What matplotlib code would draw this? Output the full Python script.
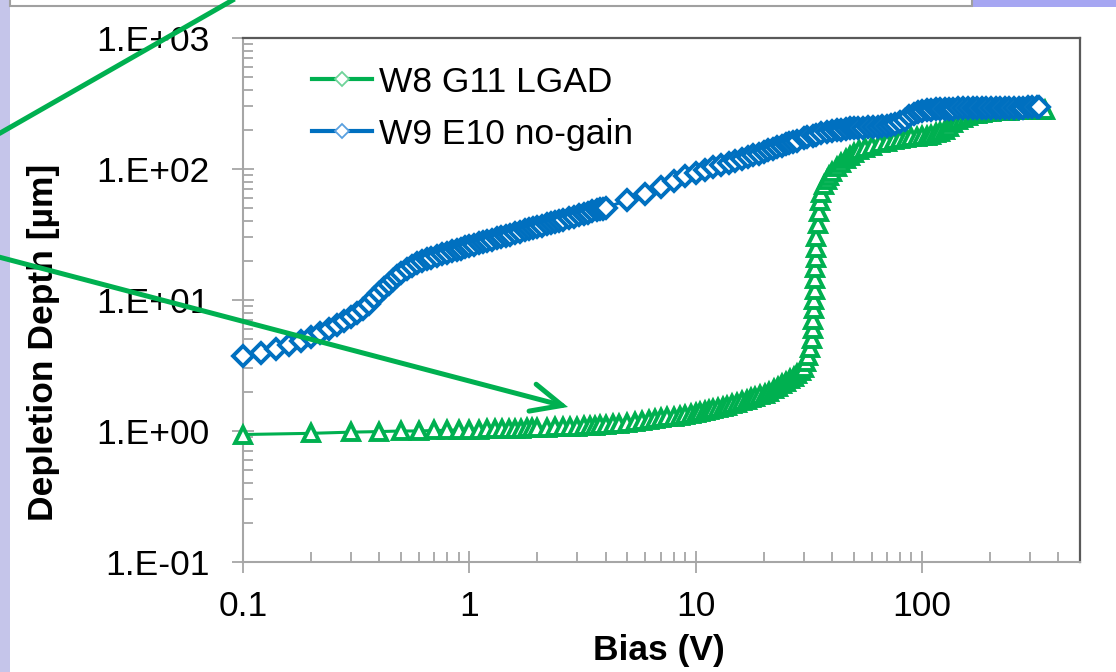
import matplotlib
matplotlib.use('Agg')
import matplotlib.pyplot as plt
from matplotlib.lines import Line2D
from matplotlib.patches import Rectangle, FancyArrowPatch
from matplotlib.ticker import FuncFormatter, LogLocator, NullFormatter
import numpy as np

plt.rcParams['font.family'] = ['Liberation Sans', 'DejaVu Sans']

# W9 E10 no-gain sensor: bias (V) and depletion depth (um)
bias_nogain = [
    0.10, 0.12, 0.14, 0.16, 0.18, 0.20, 0.22, 0.24, 0.26, 0.28, 0.30, 0.32,
    0.34, 0.36, 0.38, 0.40, 0.42, 0.44, 0.46, 0.48, 0.50, 0.53, 0.56, 0.59,
    0.62, 0.65, 0.68, 0.72, 0.76, 0.80, 0.84, 0.88, 0.92, 0.96, 1.0, 1.05,
    1.1, 1.15, 1.2, 1.26, 1.32, 1.38, 1.45, 1.52, 1.6, 1.68, 1.76, 1.84,
    1.92, 2.0, 2.1, 2.2, 2.3, 2.4, 2.5, 2.6, 2.75, 2.9, 3.05, 3.2, 3.35,
    3.5, 3.65, 3.8, 3.9, 4.0,
    5, 6, 7, 8, 9, 10, 11, 12, 13, 14, 15, 16, 17, 18, 19, 20, 21, 22, 23,
    24, 25, 26, 27, 28, 30, 31, 33, 34, 36, 38, 40, 42, 44, 46, 48, 50, 52,
    55, 58, 61, 64, 67, 70, 73, 76, 80, 84, 88, 92, 96, 100, 105, 110, 115,
    120, 126, 132, 138, 145, 152, 160, 168, 176, 184, 193, 202, 212, 222,
    233, 244, 256, 268, 281, 294, 308, 322, 330,
]
depth_nogain = [
    3.75, 3.95, 4.2, 4.5, 4.85, 5.2, 5.6, 6.0, 6.45, 6.9, 7.4, 7.9,
    8.6, 9.4, 10.3, 11.3, 12.3, 13.3, 14.3, 15.2, 16.0, 17.2, 18.2, 19.1,
    19.8, 20.4, 21.0, 21.7, 22.3, 22.9, 23.5, 24.1, 24.7, 25.2, 25.8, 26.4,
    27.0, 27.6, 28.2, 28.9, 29.6, 30.2, 30.9, 31.6, 32.4, 33.2, 34.0, 34.7,
    35.4, 36.1, 37.0, 37.8, 38.6, 39.4, 40.2, 41.0, 42.1, 43.2, 44.3, 45.4, 46.4,
    47.4, 48.4, 49.3, 49.9, 50.5,
    58, 65, 73, 81, 88, 93, 98, 103, 107, 111, 115, 119, 123, 127, 131, 135,
    139, 143, 147, 151, 155, 159, 162, 165, 171, 174, 179, 182, 187, 191,
    195, 198, 200, 202, 204, 205, 206, 207, 208, 209, 210, 212, 214, 217,
    221, 228, 238, 252, 265, 273, 278, 282, 284, 286, 287, 288, 289, 289,
    290, 290, 291, 291, 291, 292, 292, 292, 293, 293, 293, 293, 294, 294,
    294, 295, 295, 295, 295,
]

# W8 G11 LGAD sensor
bias_lgad = [
    0.1, 0.2, 0.3, 0.4, 0.5, 0.6, 0.7, 0.8, 0.9, 1.0, 1.1, 1.2, 1.3, 1.4,
    1.5, 1.6, 1.7, 1.8, 1.9, 2.0, 2.2, 2.4, 2.6, 2.8, 3.0, 3.2, 3.4, 3.6,
    3.8, 4.0, 4.3, 4.6, 5.0, 5.4, 5.8, 6.2, 6.6, 7.0, 7.5, 8.0, 8.5, 9.0,
    9.5, 10, 10.5, 11, 11.5, 12, 12.6, 13.2, 13.8, 14.5, 15.2, 16, 16.8,
    17.6, 18.4, 19.3, 20.2, 21.2, 22.2, 23.2, 24.2, 25.2, 26.2, 27.2, 28.2,
    29.2, 30.0, 30.8, 31.5, 32.1,
    32.6, 33.0, 33.2, 33.4, 33.5, 33.6, 33.7, 33.8, 33.9, 34.0,
    34.2, 34.6, 35.0, 35.5, 36, 37, 38, 39, 40, 42,
    44, 46, 48, 50, 53, 56, 60, 65, 70, 75,
    80, 85, 90, 95, 100, 105, 110, 115, 120, 126,
    132, 138, 145, 152, 160, 168, 176, 184, 193, 202,
    212, 222, 233, 244, 256, 268, 281, 294, 308, 322,
    336, 350,
]
depth_lgad = [
    0.94, 0.96, 0.98, 0.99, 1.0, 1.0, 1.01, 1.01, 1.02, 1.02, 1.02, 1.03,
    1.03, 1.03, 1.04, 1.04, 1.04, 1.05, 1.05, 1.05, 1.06, 1.07, 1.07, 1.08,
    1.08, 1.09, 1.10, 1.10, 1.11, 1.12, 1.13, 1.14, 1.16, 1.18, 1.20, 1.22,
    1.24, 1.25, 1.27, 1.29, 1.31, 1.33, 1.35, 1.37, 1.39, 1.42, 1.44, 1.46,
    1.49, 1.53, 1.56, 1.60, 1.64, 1.68, 1.73, 1.78, 1.83, 1.88, 1.93, 2.0,
    2.08, 2.18, 2.28, 2.38, 2.48, 2.58, 2.7, 2.85, 3.05, 3.35, 3.75, 4.3,
    5.0, 6.0, 7.0, 8.5, 10, 12, 14.5, 17.5, 21, 25,
    30, 38, 47, 57, 66, 75, 83, 89, 95, 103,
    111, 119, 126, 132, 139, 145, 151, 157, 162, 166,
    169, 172, 174, 176, 178, 180, 183, 187, 192, 200,
    211, 223, 236, 245, 254, 261, 265, 268, 271, 273,
    275, 277, 278, 279, 280, 281, 281, 282, 282, 283,
    283, 284,
]

green = '#00b050'
blue = '#0070c0'

fig = plt.figure(figsize=(11.16, 6.72), dpi=100)
W, H = 1116, 672

# slide background pieces behind the chart
bg = fig.add_axes([0, 0, 1, 1], zorder=0)
bg.set_xlim(0, W)
bg.set_ylim(H, 0)
bg.axis('off')
bg.add_patch(Rectangle((0, 0), 10, H, color='#c5c5ea', lw=0))
bg.add_patch(Rectangle((972, -5), W - 972, 12, color='#a6a6f2', lw=0))
bg.add_patch(Rectangle((10, -10), 962, 16, facecolor='white',
                       edgecolor='#a0a0a0', lw=1.5))

ax = fig.add_axes([243 / W, 1 - 562 / H, 837 / W, 524 / H], zorder=1)
ax.set_xscale('log')
ax.set_yscale('log')

ax.plot(bias_lgad, depth_lgad, color=green, lw=2.2, marker='^', ms=11,
        mfc='white', mec=green, mew=2.8, clip_on=False, zorder=3)
ax.plot(bias_nogain, depth_nogain, color=blue, lw=2.2, marker='D', ms=10.5,
        mfc='white', mec=blue, mew=2.8, clip_on=False, zorder=4)

ax.set_xlim(0.1, 500)
ax.set_ylim(0.1, 1000)

ax.yaxis.set_major_locator(LogLocator(base=10, numticks=10))
ax.yaxis.set_minor_locator(LogLocator(base=10, subs=np.arange(2, 10), numticks=10))
ax.yaxis.set_major_formatter(FuncFormatter(lambda v, p: '1.E%+03d' % int(round(np.log10(v)))))
ax.yaxis.set_minor_formatter(NullFormatter())
ax.xaxis.set_major_locator(LogLocator(base=10, numticks=10))
ax.xaxis.set_minor_locator(LogLocator(base=10, subs=np.arange(2, 10), numticks=10))
ax.xaxis.set_major_formatter(FuncFormatter(lambda v, p: '%g' % v))
ax.xaxis.set_minor_formatter(NullFormatter())

axis_grey = '#a6a6a6'
for side in ['left', 'bottom']:
    ax.spines[side].set_color(axis_grey)
    ax.spines[side].set_linewidth(1.5)
for side in ['top', 'right']:
    ax.spines[side].set_color('#595959')
    ax.spines[side].set_linewidth(1.6)

ax.tick_params(which='major', direction='inout', length=16, width=1.3,
               color=axis_grey, labelsize=25.5, labelcolor='black')
ax.tick_params(which='minor', direction='in', length=7.5, width=1.3, color=axis_grey)
ax.tick_params(axis='y', which='major', pad=16)
ax.tick_params(axis='x', which='major', pad=12)

ax.set_xlabel('Bias (V)', fontsize=25.5, fontweight='bold', va='center')
ax.xaxis.set_label_coords(0.497, -0.168)
ax.set_ylabel('Depletion Depth [\u00b5m]', fontsize=25.5, fontweight='bold',
              va='center', ha='center')
ax.yaxis.set_label_coords(-0.238, 0.42)

handles = [
    Line2D([], [], color=green, lw=3, marker='D', ms=7.5, mfc='white',
           mec='#6fd39a', mew=1.3),
    Line2D([], [], color=blue, lw=3, marker='D', ms=7.5, mfc='white',
           mec='#5aa0e0', mew=1.3),
]
ax.legend(handles, ['W8 G11 LGAD', 'W9 E10 no-gain'], loc='upper left',
          bbox_to_anchor=(0.0824, 0.947), frameon=False, fontsize=25.5,
          handlelength=1.7, handletextpad=0.2, labelspacing=0.53,
          borderpad=0, borderaxespad=0)

# green call-out arrows drawn over the chart
over = fig.add_axes([0, 0, 1, 1], zorder=5)
over.set_xlim(0, W)
over.set_ylim(H, 0)
over.axis('off')
over.patch.set_alpha(0)
over.plot([-5, 245], [136, -7], color=green, lw=3.6, solid_capstyle='butt')
over.add_patch(FancyArrowPatch((-5, 256), (568, 407),
                               arrowstyle='->,head_length=2.2,head_width=1.0',
                               mutation_scale=10, lw=3.6, color=green,
                               shrinkA=0, shrinkB=0, capstyle='round',
                               joinstyle='miter'))

fig.savefig('out.png', dpi=100)
